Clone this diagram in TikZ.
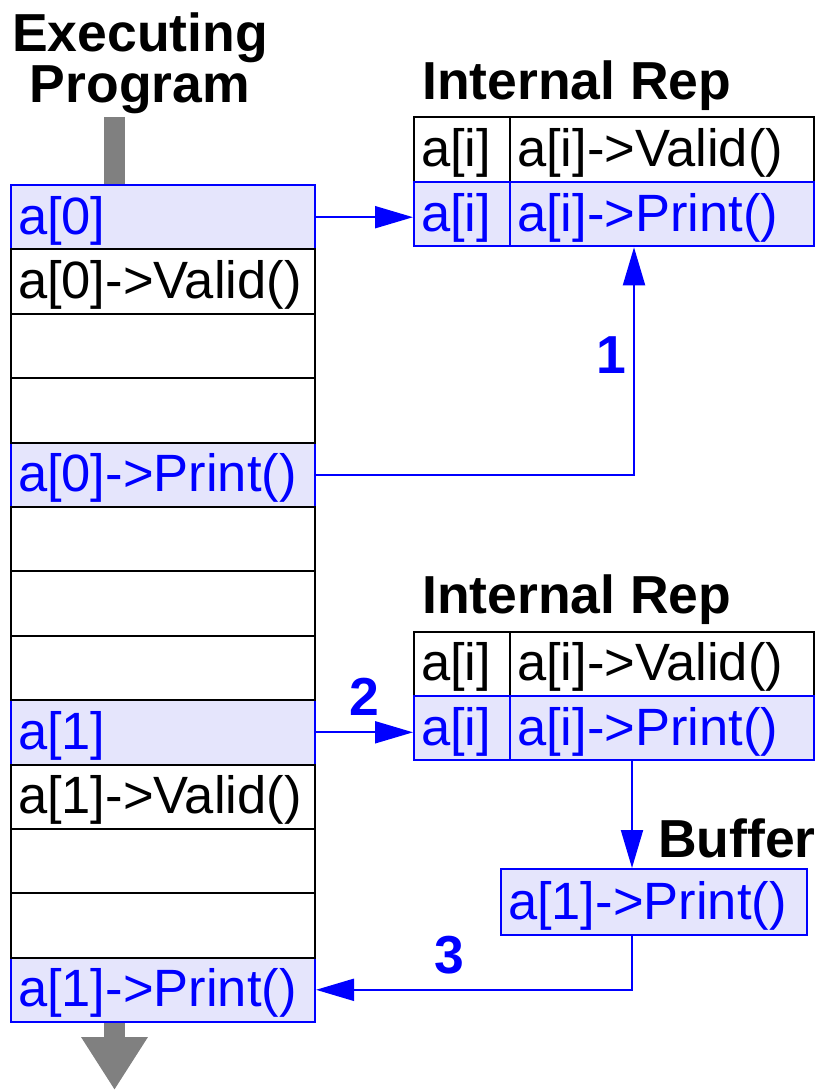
\documentclass[tikz,border=0pt]{standalone}
\usepackage{fontspec}
\setmainfont{Liberation Sans}
\usetikzlibrary{arrows.meta}
\definecolor{rowfill}{RGB}{229,229,252}
\definecolor{flowblue}{RGB}{0,0,255}
\newcommand\regfont{\fontsize{52.5pt}{56pt}\selectfont}
\newcommand\headfont{\fontsize{53.5pt}{57pt}\selectfont\bfseries}
\tikzset{
  cell/.style={draw=black, line width=2pt, rectangle, minimum height=64.4pt,
    inner xsep=7pt, inner ysep=0pt, text height=40pt, text depth=6pt,
    font=\regfont, align=left, anchor=north west},
  wide/.style={cell, text width=290pt},
  narrow/.style={cell, text width=82pt},
  hot/.style={draw=flowblue, fill=rowfill, text=flowblue},
  heading/.style={font=\headfont, inner sep=0pt},
  numlabel/.style={font=\headfont, text=flowblue, inner sep=0pt},
  flow/.style={draw=flowblue, line width=2pt, -{Triangle[length=38pt,width=22pt]}},
  feed/.style={draw=gray, line width=21pt},
}
\begin{document}
\begin{tikzpicture}[x=1pt, y=-1pt]
\useasboundingbox (0,0) rectangle (819,1091);

% headings
\node[heading, anchor=base] (exec) at (140,52) {Executing};
\node[heading, anchor=base] (prog) at (140,103) {Program};
\node[heading, anchor=base west] (rep1) at (422,100) {Internal Rep};
\node[heading, anchor=base west] (rep2) at (422,613) {Internal Rep};
\node[heading, anchor=base west] (bufhead) at (658,857) {Buffer};

% executing program: highlighted rows first
\node[wide, hot] (r1)  at (10,184.0) {a[0]};
\node[wide, hot] (r5)  at (10,441.5) {a[0]->Print()};
\node[wide, hot] (r9)  at (10,699.1) {a[1]};
\node[wide, hot] (r13) at (10,956.6) {a[1]->Print()};
% plain rows
\node[wide] (r2)  at (10,248.4) {a[0]->Valid()};
\node[wide] (r3)  at (10,312.8) {};
\node[wide] (r4)  at (10,377.2) {};
\node[wide] (r6)  at (10,505.9) {};
\node[wide] (r7)  at (10,570.3) {};
\node[wide] (r8)  at (10,634.7) {};
\node[wide] (r10) at (10,763.5) {a[1]->Valid()};
\node[wide] (r11) at (10,827.9) {};
\node[wide] (r12) at (10,892.2) {};

% internal representation tables
\node[narrow] (t1a)  at (413,116.5) {a[i]};
\node[wide]   (t1b)  at (509,116.5) {a[i]->Valid()};
\node[narrow, hot] (t1pa) at (413,180.9) {a[i]};
\node[wide, hot]   (t1pb) at (509,180.9) {a[i]->Print()};

\node[narrow] (t2a)  at (413,630.5) {a[i]};
\node[wide]   (t2b)  at (509,630.5) {a[i]->Valid()};
\node[narrow, hot] (t2pa) at (413,694.9) {a[i]};
\node[wide, hot]   (t2pb) at (509,694.9) {a[i]->Print()};

% buffer
\node[cell, hot, text width=292pt, minimum height=66pt] (buf) at (500,868) {a[1]->Print()};

% program flow in and out
\coordinate (feedTop) at (114.5,117);
\coordinate (feedEnd) at (114.5,1090);
\draw[feed] (feedTop) -- (feedTop |- r1.north);
\draw[feed, -{Triangle[length=53pt,width=63pt]}] (feedEnd |- r13.south) -- (feedEnd);

% calls
\coordinate (up1) at (634,0);
\coordinate (down2) at (632,0);
\draw[flow] (r1.east) -- (r1.east -| t1pa.west);
\draw[flow] (r5.east) -| (t1pb.south -| up1);
\draw[flow] (r9.east) -- (r9.east -| t2pa.west);
\draw[flow] (t2pb.south -| down2) -- (buf.north -| down2);
\draw[flow] (buf.south -| down2) |- (r13.east);

% step numbers
\node[numlabel] (n1) at (611,355) {1};
\node[numlabel] (n2) at (364,697) {2};
\node[numlabel] (n3) at (449,955) {3};
\end{tikzpicture}
\end{document}
